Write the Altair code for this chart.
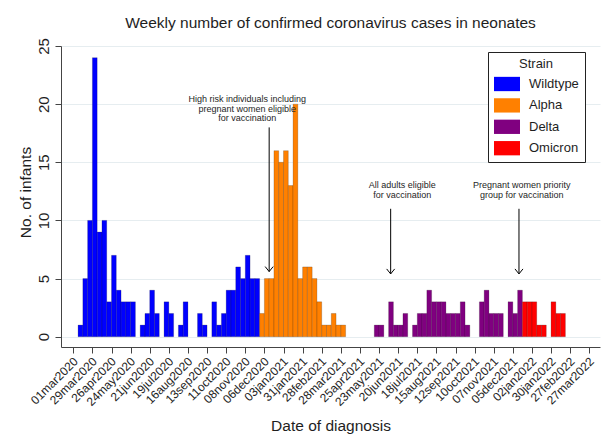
import altair as alt
import pandas as pd

FONT = "Liberation Sans"
TEXT_COLOR = "#1e1e1e"

# Weekly counts of confirmed cases, one list per strain.
# Each list starts at the week index given in STRAIN_FIRST_WEEK (weeks since FIRST_WEEK).
FIRST_WEEK = "2020-03-01"
STRAINS = ["Wildtype", "Alpha", "Delta", "Omicron"]
STRAIN_COLORS = ["#0000FF", "#FF8000", "#800080", "#FF0000"]
STRAIN_FIRST_WEEK = [0, 39, 63, 94]

WILDTYPE = [0, 1, 5, 10, 24, 9, 10, 3, 7, 4, 3, 3, 3, 0, 1, 2, 4, 2, 0, 3,
            2, 0, 1, 3, 0, 0, 2, 1, 0, 3, 1, 2, 4, 4, 6, 5, 7, 5, 5]
ALPHA = [2, 5, 5, 16, 15, 16, 13, 20, 5, 6, 6, 5, 3, 1, 1, 2, 1, 1]
DELTA = [1, 1, 0, 3, 1, 1, 2, 0, 1, 2, 2, 4, 3, 3, 3, 2, 2, 2, 3, 1,
         0, 0, 3, 4, 2, 2, 2, 0, 3, 2, 4]
OMICRON = [3, 3, 3, 1, 1, 0, 3, 2, 2]

# Axis ticks every four weeks
TICK_DATES = [
    "2020-03-01", "2020-03-29", "2020-04-26", "2020-05-24", "2020-06-21",
    "2020-07-19", "2020-08-16", "2020-09-13", "2020-10-11", "2020-11-08",
    "2020-12-06", "2021-01-03", "2021-01-31", "2021-02-28", "2021-03-28",
    "2021-04-25", "2021-05-23", "2021-06-20", "2021-07-18", "2021-08-15",
    "2021-09-12", "2021-10-10", "2021-11-07", "2021-12-05", "2022-01-02",
    "2022-01-30", "2022-02-27", "2022-03-27",
]
X_DOMAIN = ["2020-02-12T00:00:00", "2022-04-11T17:00:00"]
Y_TICKS = [0, 5, 10, 15, 20, 25]
Y_DOMAIN = [-0.886, 25]

# Vaccination milestones: arrow position, arrow top/tip, label position and text
NOTE_ARROW_DATE = ["2020-12-13", "2021-06-09", "2021-12-14"]
NOTE_ARROW_TOP = [18.0, 11.0, 11.0]
NOTE_ARROW_TIP = [5.6, 5.4, 5.4]
NOTE_TEXT_DATE = ["2020-11-11", "2021-06-26", "2021-12-18"]
NOTE_TEXT_Y = [20.17, 12.77, 12.77]
NOTE_TEXT = [
    "High risk individuals including\npregnant women eligible\nfor vaccination",
    "All adults eligible\nfor vaccination",
    "Pregnant women priority\ngroup for vaccination",
]


def to_ms(s):
    return int(pd.Timestamp(s, tz="UTC").timestamp() * 1000)


start = pd.Timestamp(FIRST_WEEK)
rows = []
for name, first, counts in zip(STRAINS, STRAIN_FIRST_WEEK, [WILDTYPE, ALPHA, DELTA, OMICRON]):
    for k, n in enumerate(counts):
        if n == 0:
            continue
        wk = start + pd.Timedelta(weeks=first + k)
        rows.append({
            "week": wk.strftime("%Y-%m-%d"),
            "week_end": (wk + pd.Timedelta(days=7)).strftime("%Y-%m-%d"),
            "cases": n,
            "strain": name,
        })
bars_df = pd.DataFrame(rows)

notes_df = pd.DataFrame({
    "arrow_date": NOTE_ARROW_DATE,
    "top": NOTE_ARROW_TOP,
    "tip": NOTE_ARROW_TIP,
    "text_date": NOTE_TEXT_DATE,
    "text_y": NOTE_TEXT_Y,
    "label": NOTE_TEXT,
})

x_scale = alt.Scale(type="utc", domain=[to_ms(d) for d in X_DOMAIN], nice=False)
y_scale = alt.Scale(domain=Y_DOMAIN, nice=False, zero=False)

x_axis = alt.Axis(
    values=[to_ms(d) for d in TICK_DATES],
    labelExpr="lower(utcFormat(datum.value, '%d%b%Y'))",
    labelAngle=315, labelAlign="right", labelBaseline="middle",
    labelFont=FONT, labelFontSize=12, labelColor=TEXT_COLOR,
    labelPadding=6, labelOffset=2, labelOverlap=False, labelFlush=False,
    tickSize=6, tickColor="#444", domainColor="#444", grid=False,
    title="Date of diagnosis", titleFont=FONT, titleFontSize=15.5,
    titleFontWeight="normal", titleColor=TEXT_COLOR,
    titleBaseline="middle", titleY=78,
)
y_axis = alt.Axis(
    values=Y_TICKS, labelAngle=270, labelAlign="center", labelBaseline="alphabetic",
    labelFont=FONT, labelFontSize=15, labelColor=TEXT_COLOR, labelPadding=7,
    tickSize=6, tickColor="#444", domainColor="#444",
    grid=True, gridColor="#E6EDF0", gridWidth=1,
    title="No. of infants", titleFont=FONT, titleFontSize=15.5,
    titleFontWeight="normal", titleColor=TEXT_COLOR, titleAngle=270,
    titleAlign="center", titleBaseline="middle", titleX=-36, titleY=146,
)

legend = alt.Legend(
    orient="none", legendX=427, legendY=6,
    title="Strain", titleFont=FONT, titleFontSize=13, titleFontWeight="normal",
    titleColor=TEXT_COLOR, titleAnchor="middle", titlePadding=0,
    labelFont=FONT, labelFontSize=13, labelColor=TEXT_COLOR, labelOffset=9,
    symbolType="M-1,-0.55H1V0.55H-1Z", symbolSize=676, symbolStrokeWidth=0,
    symbolOpacity=1, rowPadding=0.4, padding=6,
    strokeColor="#222", fillColor="white", cornerRadius=0,
)

bars = alt.Chart(bars_df).mark_bar(
    stroke="black", strokeOpacity=0.3, strokeWidth=0.6, opacity=1
).encode(
    x=alt.X("week:T", scale=x_scale, axis=x_axis),
    x2="week_end:T",
    y=alt.Y("cases:Q", scale=y_scale, axis=y_axis, stack=None),
    y2=alt.datum(0),
    color=alt.Color("strain:N", scale=alt.Scale(domain=STRAINS, range=STRAIN_COLORS), legend=legend),
)

arrows = alt.Chart(notes_df).mark_rule(color="black", strokeWidth=1).encode(
    x=alt.X("arrow_date:T", scale=x_scale, axis=x_axis),
    y=alt.Y("top:Q", scale=y_scale, axis=y_axis),
    y2="tip:Q",
)

heads = alt.Chart(notes_df).mark_point(
    shape="M-0.8,-1L0,0L0.8,-1", filled=False, size=100, color="black",
    strokeWidth=1, opacity=1,
).encode(
    x=alt.X("arrow_date:T", scale=x_scale, axis=x_axis),
    y=alt.Y("tip:Q", scale=y_scale, axis=y_axis),
)

notes = alt.Chart(notes_df).mark_text(
    font=FONT, fontSize=9, lineBreak="\n", lineHeight=9.5, align="center",
    baseline="alphabetic", color=TEXT_COLOR,
).encode(
    x=alt.X("text_date:T", scale=x_scale, axis=x_axis),
    y=alt.Y("text_y:Q", scale=y_scale, axis=y_axis),
    text="label:N",
)

chart = alt.layer(bars, arrows, heads, notes).properties(
    width=539, height=301,
    padding={"left": 61, "top": 46, "right": 16, "bottom": 101},
    autosize=alt.AutoSizeParams(type="none"),
    background="white",
    title=alt.Title(
        "Weekly number of confirmed coronavirus cases in neonates",
        font=FONT, fontSize=15.5, fontWeight="normal", color=TEXT_COLOR,
        anchor="middle", offset=6,
    ),
).configure_view(stroke=None)

chart.save("out.html", embed_options={"renderer": "svg", "actions": False})
